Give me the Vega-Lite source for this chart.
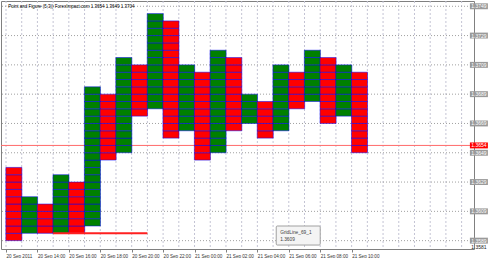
{
"$schema": "https://vega.github.io/schema/vega-lite/v6.json",
"width": 473, "height": 248, "padding": 0,
"background": "#ffffff",
"config": {"view": {"stroke": "#808080", "strokeWidth": 1}, "font": "Liberation Sans", "axis": {"labelOverlap": false}},
"datasets": {
"levels": [{"p":1.3589},{"p":1.3609},{"p":1.3629},{"p":1.3649},{"p":1.3669},{"p":1.3689},{"p":1.3709},{"p":1.3729},{"p":1.3749}],
"cols": [{"b":-0.5},{"b":0.5},{"b":1.5},{"b":2.5},{"b":3.5},{"b":4.5},{"b":5.5},{"b":6.5},{"b":7.5},{"b":8.5},{"b":9.5},{"b":10.5},{"b":11.5},{"b":12.5},{"b":13.5},{"b":14.5},{"b":15.5},{"b":16.5},{"b":17.5},{"b":18.5},{"b":19.5},{"b":20.5},{"b":21.5},{"b":22.5},{"b":23.5},{"b":24.5},{"b":25.5},{"b":26.5},{"b":27.5},{"b":28.5}],
"boxes": [
{"c":0,"t":"O","lo":1.3589,"hi":1.3594},{"c":0,"t":"O","lo":1.3594,"hi":1.3599},{"c":0,"t":"O","lo":1.3599,"hi":1.3604},{"c":0,"t":"O","lo":1.3604,"hi":1.3609},{"c":0,"t":"O","lo":1.3609,"hi":1.3614},{"c":0,"t":"O","lo":1.3614,"hi":1.3619},{"c":0,"t":"O","lo":1.3619,"hi":1.3624},{"c":0,"t":"O","lo":1.3624,"hi":1.3629},{"c":0,"t":"O","lo":1.3629,"hi":1.3634},{"c":0,"t":"O","lo":1.3634,"hi":1.3639},
{"c":1,"t":"X","lo":1.3594,"hi":1.3599},{"c":1,"t":"X","lo":1.3599,"hi":1.3604},{"c":1,"t":"X","lo":1.3604,"hi":1.3609},{"c":1,"t":"X","lo":1.3609,"hi":1.3614},{"c":1,"t":"X","lo":1.3614,"hi":1.3619},
{"c":2,"t":"O","lo":1.3594,"hi":1.3599},{"c":2,"t":"O","lo":1.3599,"hi":1.3604},{"c":2,"t":"O","lo":1.3604,"hi":1.3609},{"c":2,"t":"O","lo":1.3609,"hi":1.3614},
{"c":3,"t":"X","lo":1.3594,"hi":1.3599},{"c":3,"t":"X","lo":1.3599,"hi":1.3604},{"c":3,"t":"X","lo":1.3604,"hi":1.3609},{"c":3,"t":"X","lo":1.3609,"hi":1.3614},{"c":3,"t":"X","lo":1.3614,"hi":1.3619},{"c":3,"t":"X","lo":1.3619,"hi":1.3624},{"c":3,"t":"X","lo":1.3624,"hi":1.3629},{"c":3,"t":"X","lo":1.3629,"hi":1.3634},
{"c":4,"t":"O","lo":1.3594,"hi":1.3599},{"c":4,"t":"O","lo":1.3599,"hi":1.3604},{"c":4,"t":"O","lo":1.3604,"hi":1.3609},{"c":4,"t":"O","lo":1.3609,"hi":1.3614},{"c":4,"t":"O","lo":1.3614,"hi":1.3619},{"c":4,"t":"O","lo":1.3619,"hi":1.3624},{"c":4,"t":"O","lo":1.3624,"hi":1.3629},
{"c":5,"t":"X","lo":1.3599,"hi":1.3604},{"c":5,"t":"X","lo":1.3604,"hi":1.3609},{"c":5,"t":"X","lo":1.3609,"hi":1.3614},{"c":5,"t":"X","lo":1.3614,"hi":1.3619},{"c":5,"t":"X","lo":1.3619,"hi":1.3624},{"c":5,"t":"X","lo":1.3624,"hi":1.3629},{"c":5,"t":"X","lo":1.3629,"hi":1.3634},{"c":5,"t":"X","lo":1.3634,"hi":1.3639},{"c":5,"t":"X","lo":1.3639,"hi":1.3644},{"c":5,"t":"X","lo":1.3644,"hi":1.3649},{"c":5,"t":"X","lo":1.3649,"hi":1.3654},{"c":5,"t":"X","lo":1.3654,"hi":1.3659},{"c":5,"t":"X","lo":1.3659,"hi":1.3664},{"c":5,"t":"X","lo":1.3664,"hi":1.3669},{"c":5,"t":"X","lo":1.3669,"hi":1.3674},{"c":5,"t":"X","lo":1.3674,"hi":1.3679},{"c":5,"t":"X","lo":1.3679,"hi":1.3684},{"c":5,"t":"X","lo":1.3684,"hi":1.3689},{"c":5,"t":"X","lo":1.3689,"hi":1.3694},
{"c":6,"t":"O","lo":1.3644,"hi":1.3649},{"c":6,"t":"O","lo":1.3649,"hi":1.3654},{"c":6,"t":"O","lo":1.3654,"hi":1.3659},{"c":6,"t":"O","lo":1.3659,"hi":1.3664},{"c":6,"t":"O","lo":1.3664,"hi":1.3669},{"c":6,"t":"O","lo":1.3669,"hi":1.3674},{"c":6,"t":"O","lo":1.3674,"hi":1.3679},{"c":6,"t":"O","lo":1.3679,"hi":1.3684},{"c":6,"t":"O","lo":1.3684,"hi":1.3689},
{"c":7,"t":"X","lo":1.3649,"hi":1.3654},{"c":7,"t":"X","lo":1.3654,"hi":1.3659},{"c":7,"t":"X","lo":1.3659,"hi":1.3664},{"c":7,"t":"X","lo":1.3664,"hi":1.3669},{"c":7,"t":"X","lo":1.3669,"hi":1.3674},{"c":7,"t":"X","lo":1.3674,"hi":1.3679},{"c":7,"t":"X","lo":1.3679,"hi":1.3684},{"c":7,"t":"X","lo":1.3684,"hi":1.3689},{"c":7,"t":"X","lo":1.3689,"hi":1.3694},{"c":7,"t":"X","lo":1.3694,"hi":1.3699},{"c":7,"t":"X","lo":1.3699,"hi":1.3704},{"c":7,"t":"X","lo":1.3704,"hi":1.3709},{"c":7,"t":"X","lo":1.3709,"hi":1.3714},
{"c":8,"t":"O","lo":1.3674,"hi":1.3679},{"c":8,"t":"O","lo":1.3679,"hi":1.3684},{"c":8,"t":"O","lo":1.3684,"hi":1.3689},{"c":8,"t":"O","lo":1.3689,"hi":1.3694},{"c":8,"t":"O","lo":1.3694,"hi":1.3699},{"c":8,"t":"O","lo":1.3699,"hi":1.3704},{"c":8,"t":"O","lo":1.3704,"hi":1.3709},
{"c":9,"t":"X","lo":1.3679,"hi":1.3684},{"c":9,"t":"X","lo":1.3684,"hi":1.3689},{"c":9,"t":"X","lo":1.3689,"hi":1.3694},{"c":9,"t":"X","lo":1.3694,"hi":1.3699},{"c":9,"t":"X","lo":1.3699,"hi":1.3704},{"c":9,"t":"X","lo":1.3704,"hi":1.3709},{"c":9,"t":"X","lo":1.3709,"hi":1.3714},{"c":9,"t":"X","lo":1.3714,"hi":1.3719},{"c":9,"t":"X","lo":1.3719,"hi":1.3724},{"c":9,"t":"X","lo":1.3724,"hi":1.3729},{"c":9,"t":"X","lo":1.3729,"hi":1.3734},{"c":9,"t":"X","lo":1.3734,"hi":1.3739},{"c":9,"t":"X","lo":1.3739,"hi":1.3744},
{"c":10,"t":"O","lo":1.3659,"hi":1.3664},{"c":10,"t":"O","lo":1.3664,"hi":1.3669},{"c":10,"t":"O","lo":1.3669,"hi":1.3674},{"c":10,"t":"O","lo":1.3674,"hi":1.3679},{"c":10,"t":"O","lo":1.3679,"hi":1.3684},{"c":10,"t":"O","lo":1.3684,"hi":1.3689},{"c":10,"t":"O","lo":1.3689,"hi":1.3694},{"c":10,"t":"O","lo":1.3694,"hi":1.3699},{"c":10,"t":"O","lo":1.3699,"hi":1.3704},{"c":10,"t":"O","lo":1.3704,"hi":1.3709},{"c":10,"t":"O","lo":1.3709,"hi":1.3714},{"c":10,"t":"O","lo":1.3714,"hi":1.3719},{"c":10,"t":"O","lo":1.3719,"hi":1.3724},{"c":10,"t":"O","lo":1.3724,"hi":1.3729},{"c":10,"t":"O","lo":1.3729,"hi":1.3734},{"c":10,"t":"O","lo":1.3734,"hi":1.3739},
{"c":11,"t":"X","lo":1.3664,"hi":1.3669},{"c":11,"t":"X","lo":1.3669,"hi":1.3674},{"c":11,"t":"X","lo":1.3674,"hi":1.3679},{"c":11,"t":"X","lo":1.3679,"hi":1.3684},{"c":11,"t":"X","lo":1.3684,"hi":1.3689},{"c":11,"t":"X","lo":1.3689,"hi":1.3694},{"c":11,"t":"X","lo":1.3694,"hi":1.3699},{"c":11,"t":"X","lo":1.3699,"hi":1.3704},{"c":11,"t":"X","lo":1.3704,"hi":1.3709},
{"c":12,"t":"O","lo":1.3644,"hi":1.3649},{"c":12,"t":"O","lo":1.3649,"hi":1.3654},{"c":12,"t":"O","lo":1.3654,"hi":1.3659},{"c":12,"t":"O","lo":1.3659,"hi":1.3664},{"c":12,"t":"O","lo":1.3664,"hi":1.3669},{"c":12,"t":"O","lo":1.3669,"hi":1.3674},{"c":12,"t":"O","lo":1.3674,"hi":1.3679},{"c":12,"t":"O","lo":1.3679,"hi":1.3684},{"c":12,"t":"O","lo":1.3684,"hi":1.3689},{"c":12,"t":"O","lo":1.3689,"hi":1.3694},{"c":12,"t":"O","lo":1.3694,"hi":1.3699},{"c":12,"t":"O","lo":1.3699,"hi":1.3704},
{"c":13,"t":"X","lo":1.3649,"hi":1.3654},{"c":13,"t":"X","lo":1.3654,"hi":1.3659},{"c":13,"t":"X","lo":1.3659,"hi":1.3664},{"c":13,"t":"X","lo":1.3664,"hi":1.3669},{"c":13,"t":"X","lo":1.3669,"hi":1.3674},{"c":13,"t":"X","lo":1.3674,"hi":1.3679},{"c":13,"t":"X","lo":1.3679,"hi":1.3684},{"c":13,"t":"X","lo":1.3684,"hi":1.3689},{"c":13,"t":"X","lo":1.3689,"hi":1.3694},{"c":13,"t":"X","lo":1.3694,"hi":1.3699},{"c":13,"t":"X","lo":1.3699,"hi":1.3704},{"c":13,"t":"X","lo":1.3704,"hi":1.3709},{"c":13,"t":"X","lo":1.3709,"hi":1.3714},{"c":13,"t":"X","lo":1.3714,"hi":1.3719},
{"c":14,"t":"O","lo":1.3664,"hi":1.3669},{"c":14,"t":"O","lo":1.3669,"hi":1.3674},{"c":14,"t":"O","lo":1.3674,"hi":1.3679},{"c":14,"t":"O","lo":1.3679,"hi":1.3684},{"c":14,"t":"O","lo":1.3684,"hi":1.3689},{"c":14,"t":"O","lo":1.3689,"hi":1.3694},{"c":14,"t":"O","lo":1.3694,"hi":1.3699},{"c":14,"t":"O","lo":1.3699,"hi":1.3704},{"c":14,"t":"O","lo":1.3704,"hi":1.3709},{"c":14,"t":"O","lo":1.3709,"hi":1.3714},
{"c":15,"t":"X","lo":1.3669,"hi":1.3674},{"c":15,"t":"X","lo":1.3674,"hi":1.3679},{"c":15,"t":"X","lo":1.3679,"hi":1.3684},{"c":15,"t":"X","lo":1.3684,"hi":1.3689},
{"c":16,"t":"O","lo":1.3659,"hi":1.3664},{"c":16,"t":"O","lo":1.3664,"hi":1.3669},{"c":16,"t":"O","lo":1.3669,"hi":1.3674},{"c":16,"t":"O","lo":1.3674,"hi":1.3679},{"c":16,"t":"O","lo":1.3679,"hi":1.3684},
{"c":17,"t":"X","lo":1.3664,"hi":1.3669},{"c":17,"t":"X","lo":1.3669,"hi":1.3674},{"c":17,"t":"X","lo":1.3674,"hi":1.3679},{"c":17,"t":"X","lo":1.3679,"hi":1.3684},{"c":17,"t":"X","lo":1.3684,"hi":1.3689},{"c":17,"t":"X","lo":1.3689,"hi":1.3694},{"c":17,"t":"X","lo":1.3694,"hi":1.3699},{"c":17,"t":"X","lo":1.3699,"hi":1.3704},{"c":17,"t":"X","lo":1.3704,"hi":1.3709},
{"c":18,"t":"O","lo":1.3679,"hi":1.3684},{"c":18,"t":"O","lo":1.3684,"hi":1.3689},{"c":18,"t":"O","lo":1.3689,"hi":1.3694},{"c":18,"t":"O","lo":1.3694,"hi":1.3699},{"c":18,"t":"O","lo":1.3699,"hi":1.3704},
{"c":19,"t":"X","lo":1.3684,"hi":1.3689},{"c":19,"t":"X","lo":1.3689,"hi":1.3694},{"c":19,"t":"X","lo":1.3694,"hi":1.3699},{"c":19,"t":"X","lo":1.3699,"hi":1.3704},{"c":19,"t":"X","lo":1.3704,"hi":1.3709},{"c":19,"t":"X","lo":1.3709,"hi":1.3714},{"c":19,"t":"X","lo":1.3714,"hi":1.3719},
{"c":20,"t":"O","lo":1.3669,"hi":1.3674},{"c":20,"t":"O","lo":1.3674,"hi":1.3679},{"c":20,"t":"O","lo":1.3679,"hi":1.3684},{"c":20,"t":"O","lo":1.3684,"hi":1.3689},{"c":20,"t":"O","lo":1.3689,"hi":1.3694},{"c":20,"t":"O","lo":1.3694,"hi":1.3699},{"c":20,"t":"O","lo":1.3699,"hi":1.3704},{"c":20,"t":"O","lo":1.3704,"hi":1.3709},{"c":20,"t":"O","lo":1.3709,"hi":1.3714},
{"c":21,"t":"X","lo":1.3674,"hi":1.3679},{"c":21,"t":"X","lo":1.3679,"hi":1.3684},{"c":21,"t":"X","lo":1.3684,"hi":1.3689},{"c":21,"t":"X","lo":1.3689,"hi":1.3694},{"c":21,"t":"X","lo":1.3694,"hi":1.3699},{"c":21,"t":"X","lo":1.3699,"hi":1.3704},{"c":21,"t":"X","lo":1.3704,"hi":1.3709},
{"c":22,"t":"O","lo":1.3649,"hi":1.3654},{"c":22,"t":"O","lo":1.3654,"hi":1.3659},{"c":22,"t":"O","lo":1.3659,"hi":1.3664},{"c":22,"t":"O","lo":1.3664,"hi":1.3669},{"c":22,"t":"O","lo":1.3669,"hi":1.3674},{"c":22,"t":"O","lo":1.3674,"hi":1.3679},{"c":22,"t":"O","lo":1.3679,"hi":1.3684},{"c":22,"t":"O","lo":1.3684,"hi":1.3689},{"c":22,"t":"O","lo":1.3689,"hi":1.3694},{"c":22,"t":"O","lo":1.3694,"hi":1.3699},{"c":22,"t":"O","lo":1.3699,"hi":1.3704}
]},
"layer": [
{"data": {"name": "cols"},
 "mark": {"type": "rule", "color": "#c4c4d4", "strokeDash": [2, 2], "strokeWidth": 1},
 "encoding": {"x": {"field": "b", "type": "quantitative", "scale": {"domain": [-0.5, 28.97], "nice": false, "zero": false}}}},
{"data": {"name": "levels"},
 "mark": {"type": "rule", "color": "#a0a0a0", "strokeDash": [1, 2], "strokeWidth": 1},
 "encoding": {"y": {"field": "p", "type": "quantitative", "scale": {"domain": [1.35833, 1.37526], "nice": false, "zero": false}, "axis": null}}},
{"data": {"values": [{}]},
 "mark": {"type": "rule", "color": "#ff6a6a", "strokeWidth": 1},
 "encoding": {"y": {"datum": 1.3654, "type": "quantitative", "scale": {"domain": [1.35833, 1.37526], "nice": false, "zero": false}, "axis": null}}},
{"data": {"name": "boxes"},
 "mark": {"type": "bar", "width": 16.05, "stroke": "#0000ff", "strokeOpacity": 0.5, "strokeWidth": 1},
 "encoding": {
  "x": {"field": "c", "type": "quantitative", "scale": {"domain": [-0.5, 28.97], "nice": false, "zero": false},
   "axis": {"orient": "bottom", "values": [-0.5,1.5,3.5,5.5,7.5,9.5,11.5,13.5,15.5,17.5,19.5,21.5],
    "title": null, "domain": false, "grid": false,
    "labelExpr": "['20 Sep 2011','20 Sep 14:00','20 Sep 16:00','20 Sep 18:00','20 Sep 20:00','20 Sep 22:00','21 Sep 00:00','21 Sep 02:00','21 Sep 04:00','21 Sep 06:00','21 Sep 08:00','21 Sep 10:00'][round((datum.value+0.5)/2)]",
    "labelAlign": "left", "labelFontSize": 4.6, "labelColor": "#333333", "labelPadding": 1, "labelOverlap": false, "labelFlush": false,
    "tickSize": 3, "tickColor": "#808080"}},
  "y": {"field": "lo", "type": "quantitative", "scale": {"domain": [1.35833, 1.37526], "nice": false, "zero": false}, "axis": null},
  "y2": {"field": "hi"},
  "fill": {"field": "t", "type": "nominal", "scale": {"domain": ["X", "O"], "range": ["#008000", "#ff0000"]}, "legend": null}
 }},
{"data": {"values": [{}]},
 "mark": {"type": "rule", "color": "#ff2020", "strokeWidth": 2},
 "encoding": {"x": {"datum": 2.5, "type": "quantitative", "scale": {"domain": [-0.5, 28.97], "nice": false, "zero": false}}, "x2": {"datum": 8.5},
  "y": {"datum": 1.3594, "type": "quantitative", "scale": {"domain": [1.35833, 1.37526], "nice": false, "zero": false}}}},
{"data": {"values": [{}]},
 "mark": {"type": "text", "align": "left", "baseline": "middle", "fontSize": 4.5, "color": "#000000", "text": "Point and Figure (5,3)) ForexImpact.com 1.3654 1.3649 1.3704"},
 "encoding": {"x": {"datum": -0.35, "type": "quantitative", "scale": {"domain": [-0.5, 28.97], "nice": false, "zero": false}},
  "y": {"datum": 1.37488, "type": "quantitative", "scale": {"domain": [1.35833, 1.37526], "nice": false, "zero": false}}}},
{"data": {"values": [{}]},
 "mark": {"type": "rect", "fill": "#f4f4f4", "stroke": "#a0a0a0", "strokeWidth": 1, "cornerRadius": 1},
 "encoding": {"x": {"datum": 16.7, "type": "quantitative", "scale": {"domain": [-0.5, 28.97], "nice": false, "zero": false}}, "x2": {"datum": 19.5},
  "y": {"datum": 1.3599, "type": "quantitative", "scale": {"domain": [1.35833, 1.37526], "nice": false, "zero": false}}, "y2": {"datum": 1.3586}}},
{"data": {"values": [{"line": "GridLine_69_1", "v": 1.35945}, {"line": "1.3609", "v": 1.35895}]},
 "mark": {"type": "text", "align": "left", "baseline": "middle", "fontSize": 4.8, "color": "#404040"},
 "encoding": {"x": {"datum": 16.95, "type": "quantitative", "scale": {"domain": [-0.5, 28.97], "nice": false, "zero": false}},
  "y": {"field": "v", "type": "quantitative", "scale": {"domain": [1.35833, 1.37526], "nice": false, "zero": false}},
  "text": {"field": "line"}}},
{"data": {"name": "levels"},
 "mark": {"type": "point", "shape": "M-1,-0.33L1,-0.33L1,0.33L-1,0.33Z", "filled": true, "opacity": 1, "size": 324, "color": "#9a9a9a", "strokeWidth": 0},
 "encoding": {"x": {"datum": 29.6, "type": "quantitative", "scale": {"domain": [-0.5, 28.97], "nice": false, "zero": false}},
  "y": {"field": "p", "type": "quantitative", "scale": {"domain": [1.35833, 1.37526], "nice": false, "zero": false}}}},
{"data": {"values": [{"p": 1.3654}]},
 "mark": {"type": "point", "shape": "M-1,-0.33L1,-0.33L1,0.33L-1,0.33Z", "filled": true, "opacity": 1, "size": 324, "color": "#ff0000", "strokeWidth": 0},
 "encoding": {"x": {"datum": 29.6, "type": "quantitative", "scale": {"domain": [-0.5, 28.97], "nice": false, "zero": false}},
  "y": {"field": "p", "type": "quantitative", "scale": {"domain": [1.35833, 1.37526], "nice": false, "zero": false}}}},
{"data": {"name": "levels"},
 "mark": {"type": "text", "align": "center", "baseline": "middle", "fontSize": 5, "color": "#ffffff"},
 "encoding": {"x": {"datum": 29.6, "type": "quantitative", "scale": {"domain": [-0.5, 28.97], "nice": false, "zero": false}},
  "y": {"field": "p", "type": "quantitative", "scale": {"domain": [1.35833, 1.37526], "nice": false, "zero": false}},
  "text": {"field": "p", "type": "quantitative", "format": ".4f"}}},
{"data": {"values": [{"p": 1.3654}]},
 "mark": {"type": "text", "align": "center", "baseline": "middle", "fontSize": 5, "color": "#ffffff"},
 "encoding": {"x": {"datum": 29.6, "type": "quantitative", "scale": {"domain": [-0.5, 28.97], "nice": false, "zero": false}},
  "y": {"field": "p", "type": "quantitative", "scale": {"domain": [1.35833, 1.37526], "nice": false, "zero": false}},
  "text": {"field": "p", "type": "quantitative", "format": ".4f"}}},
{"data": {"values": [{"p": 1.35845, "label": "1.3581"}]},
 "mark": {"type": "text", "align": "center", "baseline": "middle", "fontSize": 5, "color": "#222222"},
 "encoding": {"x": {"datum": 29.6, "type": "quantitative", "scale": {"domain": [-0.5, 28.97], "nice": false, "zero": false}},
  "y": {"field": "p", "type": "quantitative", "scale": {"domain": [1.35833, 1.37526], "nice": false, "zero": false}},
  "text": {"field": "label"}}}
]
}
